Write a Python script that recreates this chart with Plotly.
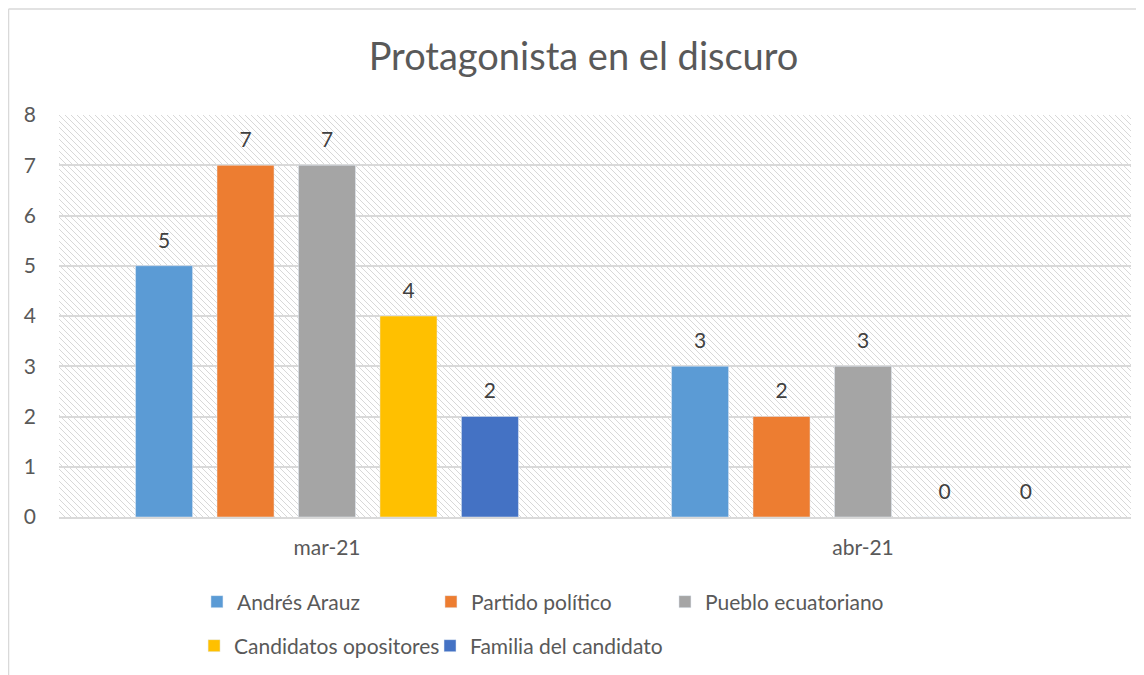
import plotly.graph_objects as go
import base64

categories = ["mar-21", "abr-21"]
series_names = ["Andrés Arauz", "Partido político", "Pueblo ecuatoriano",
                "Candidatos opositores", "Familia del candidato"]
andres_arauz = [5, 3]
partido_politico = [7, 2]
pueblo_ecuatoriano = [7, 3]
candidatos_opositores = [4, 0]
familia_candidato = [2, 0]
series_values = [andres_arauz, partido_politico, pueblo_ecuatoriano,
                 candidatos_opositores, familia_candidato]
colors = ["#5B9BD5", "#ED7D31", "#A5A5A5", "#FFC000", "#4472C4"]
legend_ids = ["legend", "legend", "legend", "legend2", "legend3"]
y_ticks = [0, 1, 2, 3, 4, 5, 6, 7, 8]

FONT = "Lato"

fig = go.Figure()
for name, vals, col, lg in zip(series_names, series_values, colors, legend_ids):
    fig.add_trace(go.Bar(
        x=categories, y=vals, name=name, marker_color=col,
        legend=lg, offsetgroup=name, hoverinfo="skip",
    ))
# data labels (text placed above each bar, grouped like the bars)
for name, vals in zip(series_names, series_values):
    fig.add_trace(go.Scatter(
        x=categories, y=vals, mode="markers+text", offsetgroup=name,
        text=[str(v) for v in vals], textposition="top center",
        textfont=dict(size=21, color="#404040", family=FONT),
        marker=dict(size=19, opacity=0), showlegend=False,
        cliponaxis=False, hoverinfo="skip",
    ))

# hatched background pattern for the plot area
svg = ('<svg xmlns="http://www.w3.org/2000/svg" width="1072" height="402">'
       '<defs><pattern id="p" width="6" height="6" patternUnits="userSpaceOnUse">'
       '<path d="M-1,-1 L7,7 M-1,5 L1,7 M5,-1 L7,1" stroke="#d8d8d8" stroke-width="1"/>'
       '</pattern></defs><rect width="1072" height="402" fill="url(#p)"/></svg>')
src = "data:image/svg+xml;base64," + base64.b64encode(svg.encode()).decode()

legend_common = dict(orientation="h", xanchor="left", yanchor="middle",
                     font=dict(size=21, color="#595959", family=FONT),
                     traceorder="normal", bgcolor="rgba(0,0,0,0)")

fig.update_layout(
    width=1144, height=675,
    margin=dict(l=51, r=21, t=107, b=166),
    paper_bgcolor="white", plot_bgcolor="white",
    title=dict(text="Protagonista en el discuro", x=0.4893, xanchor="center",
               xref="paper", y=0.9274, yanchor="middle",
               font=dict(size=38, color="#595959", family=FONT)),
    font=dict(family=FONT, color="#595959", size=21),
    barmode="group", bargap=0.24, bargroupgap=0.30,
    scattermode="group", scattergap=0.24,
    showlegend=True,
    legend=dict(legend_common, x=0.1287, y=-0.2114,
                entrywidth=189, entrywidthmode="pixels"),
    legend2=dict(legend_common, x=0.1260, y=-0.3209),
    legend3=dict(legend_common, x=0.3461, y=-0.3209),
    images=[dict(source=src, xref="paper", yref="paper", x=0, y=1,
                 sizex=1, sizey=1, sizing="stretch", layer="below")],
    shapes=[
        dict(type="line", xref="paper", yref="paper", x0=-0.0471, x1=-0.0471,
             y0=1.2637, y1=-0.5, line=dict(color="#d9d9d9", width=1.5)),
        dict(type="line", xref="paper", yref="paper", x0=-0.0471, x1=1.05,
             y0=1.2637, y1=1.2637, line=dict(color="#d9d9d9", width=1.5)),
    ],
)
fig.update_yaxes(range=[0, 8], tickvals=y_ticks, showgrid=True,
                 gridcolor="#d9d9d9", gridwidth=1.5, zeroline=False,
                 showline=False, ticks="", ticklabelstandoff=22,
                 tickfont=dict(size=21, color="#595959"))
fig.update_xaxes(showline=True, linecolor="#d9d9d9", linewidth=1.5,
                 ticks="", ticklabelstandoff=11,
                 tickfont=dict(size=21, color="#595959"))

fig.write_html("out.html")
